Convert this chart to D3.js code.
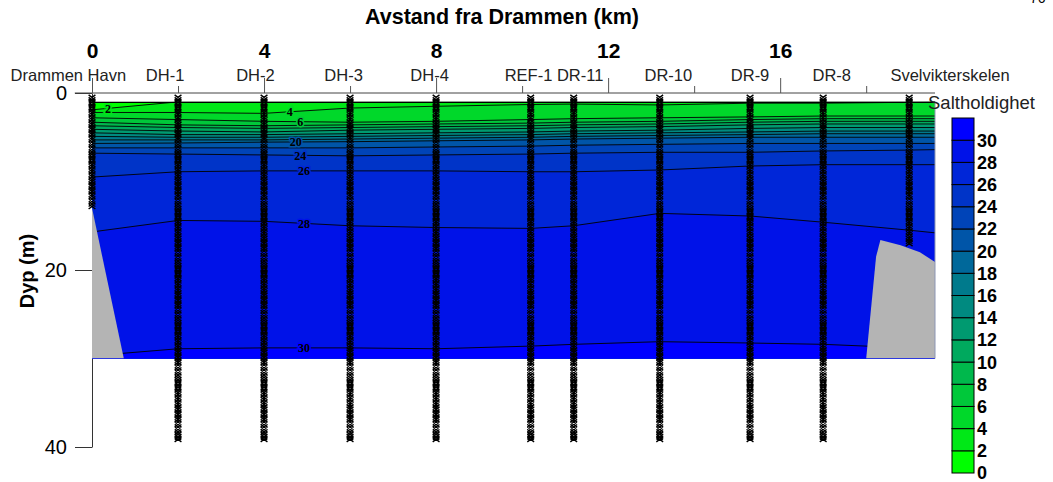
<!DOCTYPE html>
<html lang="no">
<head>
<meta charset="UTF-8">
<title>Saltholdighet Drammensfjorden</title>
<script src="https://cdn.jsdelivr.net/npm/d3@7"></script>
<style>
  body{margin:0;background:#fff;}
  svg text{font-family:"Liberation Sans",Arial,sans-serif;}
</style>
</head>
<body>
<div id="graphWrap"></div>
<script>
// stations along the fjord, km from Drammen, and how deep each profile reaches (m)
var stations=["Drammen Havn","DH-1","DH-2","DH-3","DH-4","REF-1","DR-11","DR-10","DR-9","DR-8","Svelvikterskelen"];
var stationKm=[0,2,4,6,8,10.2,11.2,13.2,15.3,17,19];
var stationMaxDepth=[13,39.4,39.4,39.4,39.4,39.4,39.4,39.3,39.3,39.3,17.2];
var stationLabelKm=[-0.55,1.7,3.8,5.85,7.85,10.15,11.35,13.4,15.3,17.2,19.95];

// depth (m) of each isohaline, read at these distances
var gridKm=[0,2,4,6,8,10.2,11.2,13.2,15.3,17,19,19.6];
var sal2 =[1.9,1.0,1.0,1.0,1.0,1.0,1.0,1.0,1.0,1.0,1.0,1.0];
var sal4 =[2.2,2.2,2.3,1.7,1.5,1.3,1.25,1.35,1.15,1.15,1.05,1.0];
var sal6 =[2.8,3.0,3.2,3.3,3.2,3.0,2.9,2.8,2.7,2.6,2.6,2.6];
var sal8 =[3.3,3.6,3.7,3.6,3.5,3.4,3.3,3.2,3.0,2.9,2.9,2.9];
var sal10=[3.7,3.9,4.0,3.9,3.8,3.7,3.6,3.5,3.3,3.2,3.2,3.2];
var sal12=[4.1,4.3,4.4,4.2,4.1,4.0,3.9,3.8,3.6,3.5,3.5,3.5];
var sal14=[4.5,4.7,4.7,4.6,4.5,4.4,4.3,4.2,4.0,3.9,3.9,3.9];
var sal16=[4.9,5.0,5.0,4.9,4.8,4.7,4.6,4.5,4.4,4.3,4.3,4.3];
var sal18=[5.3,5.3,5.3,5.2,5.1,5.0,4.9,4.8,4.7,4.6,4.6,4.6];
var sal20=[5.7,5.65,5.55,5.5,5.4,5.3,5.2,5.1,5.0,5.0,5.0,5.0];
var sal22=[6.2,6.2,6.2,6.2,6.1,6.0,5.9,5.8,5.7,5.7,5.7,5.7];
var sal24=[6.8,6.9,7.0,7.1,7.0,6.9,6.8,6.7,6.7,6.55,6.45,6.4];
var sal26=[9.5,8.9,8.8,8.8,8.8,8.9,8.9,8.7,8.25,8.1,8.1,8.1];
var sal28=[15.7,14.4,14.5,15.0,15.2,15.3,15.0,13.6,13.9,14.6,15.5,15.8];
var sal30=[29.7,28.9,28.8,28.8,28.9,28.6,28.4,28.1,28.25,28.4,28.8,29.0];
var levels=[2,4,6,8,10,12,14,16,18,20,22,24,26,28,30];
var isoDepths=[sal2,sal4,sal6,sal8,sal10,sal12,sal14,sal16,sal18,sal20,sal22,sal24,sal26,sal28,sal30];

// colour for each 2-unit class, 0-2 up to 30-32
var bandColors=["#00ff00","#00e817","#00d82a","#00c83a","#00b84c","#00a95e","#009a70","#008a80",
                "#007a8c","#00689a","#0055a8","#0044b8","#0034c8","#0026d8","#0012e8","#0000ff"];
var legendTicks=[0,2,4,6,8,10,12,14,16,18,20,22,24,26,28,30];

// contour labels: which line and where along it
var labelLevels=[2,4,6,20,24,26,28,30];
var labelLevelKm=[0.37,4.6,4.84,4.74,4.84,4.93,4.93,4.93];

// sea floor (grey)
var floorLeftKm=[0,0,0.74];
var floorLeftDepth=[13,30,30];
var floorRightKm=[18.0,18.23,18.33,18.8,19.25,19.6,19.6];
var floorRightDepth=[30,18.5,16.6,17.2,18.0,19.1,30];

var svg=d3.select("#graphWrap").append("svg").attr("width",1053).attr("height",482);
var x=d3.scaleLinear().domain([0,19.6]).range([92,935]);
var y=d3.scaleLinear().domain([0,40]).range([93,447]);

svg.append("defs").append("clipPath").attr("id","plotClip").append("rect")
  .attr("x",x(0)).attr("y",y(1)).attr("width",x(19.6)-x(0)).attr("height",y(30)-y(1));

// left depth axis (drawn first, the section covers most of it)
var yAx=svg.append("g").attr("transform","translate("+x(0)+",0)")
  .call(d3.axisLeft(y).tickValues([0,20,40]).tickSize(17).tickPadding(8).tickSizeOuter(0));
yAx.attr("font-size",20).attr("font-family","Liberation Sans, Arial, sans-serif");
yAx.selectAll("path,line").attr("stroke","#333");
yAx.selectAll("text").attr("fill","#000");

svg.append("text").attr("transform","translate(34,271) rotate(-90)").attr("text-anchor","middle")
  .attr("font-size",20).attr("font-weight","bold").text("Dyp (m)");

// the filled section
var plot=svg.append("g").attr("clip-path","url(#plotClip)");
plot.append("rect").attr("x",x(0)).attr("y",y(1)).attr("width",x(19.6)-x(0)).attr("height",y(30)-y(1))
  .attr("fill",bandColors[0]);
levels.forEach(function(lv,i){
  var area=d3.area().x(function(d,j){return x(gridKm[j]);})
    .y0(function(d){return y(d);}).y1(y(31));
  plot.append("path").attr("d",area(isoDepths[i])).attr("fill",bandColors[i+1]);
});
var line=d3.line().x(function(d,j){return x(gridKm[j]);}).y(function(d){return y(d);});
isoDepths.forEach(function(arr){
  plot.append("path").attr("d",line(arr)).attr("fill","none").attr("stroke","#000").attr("stroke-width",0.9);
});
plot.append("line").attr("x1",x(0)).attr("x2",x(19.6)).attr("y1",y(1)).attr("y2",y(1))
  .attr("stroke","#000").attr("stroke-width",2.5);

// contour labels
labelLevels.forEach(function(lv,i){
  var k=levels.indexOf(lv);
  var dep=d3.scaleLinear().domain(gridKm).range(isoDepths[k])(labelLevelKm[i]);
  plot.append("text").attr("x",x(labelLevelKm[i])).attr("y",y(dep)).attr("dy","0.35em")
    .attr("text-anchor","middle").attr("font-size",12).attr("font-weight","bold")
    .style("font-family","Liberation Serif, Times New Roman, serif")
    .attr("stroke",bandColors[k+1]).attr("stroke-width",3).attr("paint-order","stroke")
    .attr("fill","#000").text(lv);
});

// grey bottom
var floorLine=d3.line().x(function(d){return x(d[0]);}).y(function(d){return y(d[1]);});
plot.append("path").attr("d",floorLine(d3.zip(floorLeftKm,floorLeftDepth))+"Z").attr("fill","#b4b4b4");
plot.append("path").attr("d",floorLine.curve(d3.curveMonotoneX)(d3.zip(floorRightKm,floorRightDepth).slice(2,6)))
  .attr("fill","none");
plot.append("path").attr("d",d3.line().x(function(d){return x(d[0]);}).y(function(d){return y(d[1]);})
    (d3.zip(floorRightKm,floorRightDepth))+"Z")
  .attr("fill","#b4b4b4");
svg.append("line").attr("x1",x(19.6)).attr("x2",x(19.6)).attr("y1",y(1)).attr("y2",y(30))
  .attr("stroke","#8c96b4").attr("stroke-width",1);

// sample points of each CTD profile
var pd="";
stationKm.forEach(function(km,i){
  var cx=x(km);
  d3.range(0.5,stationMaxDepth[i]+0.01,0.28).forEach(function(dp){
    var cy=y(dp);
    pd+="M"+(cx-3.4)+","+(cy-2.5)+"L"+(cx+3.4)+","+(cy+2.5)+"M"+(cx+3.4)+","+(cy-2.5)+"L"+(cx-3.4)+","+(cy+2.5);
  });
});
svg.append("path").attr("d",pd).attr("fill","none").attr("stroke","#000").attr("stroke-width",1.4);

// top distance axis
svg.append("line").attr("x1",x(-0.4)).attr("x2",x(19.6)).attr("y1",y(0)).attr("y2",y(0))
  .attr("stroke","#444").attr("stroke-width",1);
var xAx=svg.append("g").attr("transform","translate(0,"+y(0)+")")
  .call(d3.axisTop(x).tickValues([0,4,8,12,16]).tickSize(15).tickPadding(20).tickFormat(d3.format("d")));
xAx.select(".domain").remove();
xAx.attr("font-size",21).attr("font-weight","bold").attr("font-family","Liberation Sans, Arial, sans-serif");
xAx.selectAll("line").attr("stroke","#555");
xAx.selectAll("text").attr("fill","#000");
var xMinor=svg.append("g").attr("transform","translate(0,"+y(0)+")")
  .call(d3.axisTop(x).tickValues([2,6,10,14,18]).tickSize(7).tickFormat(""));
xMinor.select(".domain").remove();
xMinor.selectAll("line").attr("stroke","#555");

svg.selectAll("text.stn").data(stations).enter().append("text").attr("class","stn")
  .attr("x",function(d,i){return x(stationLabelKm[i]);}).attr("y",81)
  .attr("text-anchor","middle").attr("font-size",16.5).attr("fill","#222").text(function(d){return d;});

svg.append("text").attr("x",502).attr("y",24).attr("text-anchor","middle")
  .attr("font-size",21.5).attr("font-weight","bold").text("Avstand fra Drammen (km)");
svg.append("text").attr("x",1030).attr("y",3).attr("font-size",14).text("76");

// legend
var cb=d3.scaleLinear().domain([0,32]).range([473,118]);
svg.append("text").attr("x",928).attr("y",109).attr("font-size",18.5).attr("fill","#222").text("Saltholdighet");
var leg=svg.append("g");
bandColors.forEach(function(c,i){
  leg.append("rect").attr("x",952).attr("y",cb(i*2+2)).attr("width",22).attr("height",cb(i*2)-cb(i*2+2))
    .attr("fill",c).attr("stroke","#000").attr("stroke-width",1);
});
leg.selectAll("text").data(legendTicks).enter().append("text")
  .attr("x",977).attr("y",function(d){return cb(d);}).attr("dy","0.36em")
  .attr("font-size",18).attr("font-weight","bold").text(function(d){return d;});
</script>
</body>
</html>
